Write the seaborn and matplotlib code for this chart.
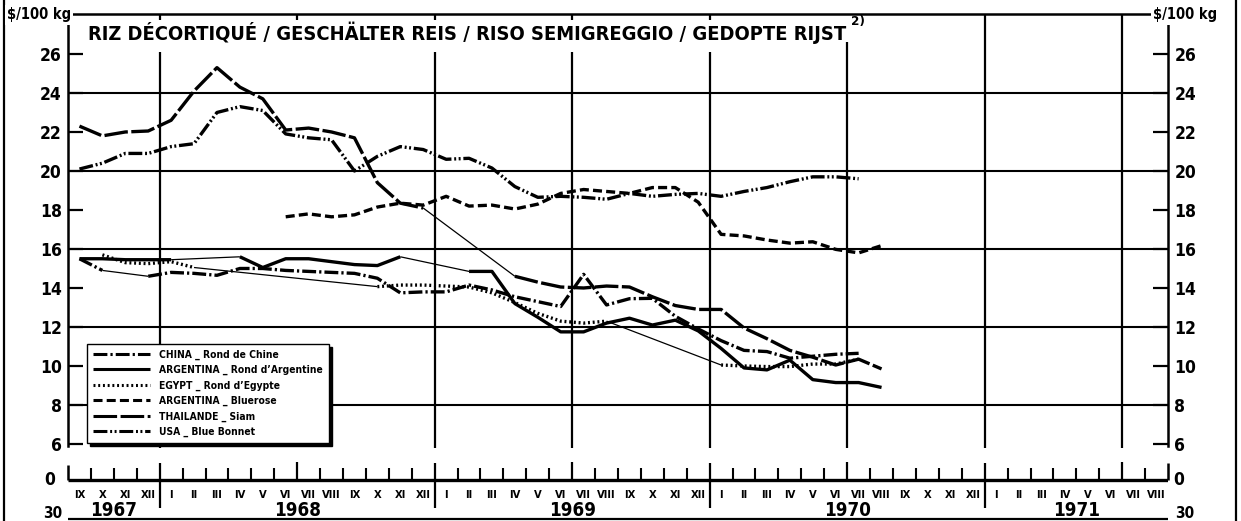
import os
import numpy as np
import pandas as pd
import matplotlib
matplotlib.use("Agg")
import matplotlib.pyplot as plt
from matplotlib import font_manager
from matplotlib.font_manager import FontProperties
from matplotlib.lines import Line2D
import seaborn as sns

# ---------------------------------------------------------------------------
# Monthly prices of husked rice, $/100 kg, Sept. 1967 - Aug. 1970
# (NaN = month without quotation; gaps are bridged by a thin line)
# ---------------------------------------------------------------------------
N = np.nan
month_labels = (["IX", "X", "XI", "XII"]
                + ["I", "II", "III", "IV", "V", "VI", "VII", "VIII", "IX", "X", "XI", "XII"] * 3
                + ["I", "II", "III", "IV", "V", "VI", "VII", "VIII"])
year_labels = ["1967", "1968", "1969", "1970", "1971"]
y_ticks = [26, 24, 22, 20, 18, 16, 14, 12, 10, 8, 6]

china = [15.5, 14.9, N, 14.6, 14.8, 14.75, 14.65, 15.0, 15.0, 14.9, 14.85, 14.8,
         14.75, 14.5, 13.75, 13.8, 13.8, 14.15, 13.9, 13.55, 13.3, 13.05, 14.7, 13.13,
         13.45, 13.47, 12.55, 11.9, 11.3, 10.8, 10.74, 10.4, 10.5, 10.6, 10.65, N]
argentina_rond = [15.5, 15.5, 15.45, 15.45, 15.45, N, N, 15.6, 15.05, 15.5, 15.5, 15.35,
                  15.2, 15.15, 15.6, N, N, 14.85, 14.85, 13.2, 12.5, 11.75, 11.75, 12.2,
                  12.45, 12.1, 12.35, 11.8, 10.9, 9.9, 9.8, 10.3, 9.3, 9.15, 9.15, 8.9]
egypt = [N, 15.7, 15.3, 15.25, 15.35, 15.05, N, N, N, N, N, N,
         N, 14.07, 14.15, 14.15, 14.1, 14.05, 13.75, 13.25, 12.7, 12.3, 12.2, 12.3,
         N, N, N, N, 10.05, 10.0, 9.97, 9.97, 10.1, 10.1, 10.35, N]
bluerose = [N, N, N, N, N, N, N, N, N, 17.65, 17.8, 17.65,
            17.75, 18.15, 18.35, 18.25, 18.7, 18.2, 18.25, 18.05, 18.3, 18.85, 19.05, 18.95,
            18.85, 19.15, 19.15, 18.4, 16.75, 16.67, 16.46, 16.3, 16.37, 15.98, 15.8, 16.17]
thailande = [22.3, 21.8, 22.0, 22.05, 22.6, 24.1, 25.3, 24.3, 23.7, 22.1, 22.2, 22.0,
             21.7, 19.4, 18.35, 18.1, N, N, N, 14.6, 14.3, 14.05, 14.0, 14.1,
             14.05, 13.55, 13.1, 12.9, 12.9, 11.95, 11.4, 10.8, 10.45, 10.05, 10.35, 9.85]
usa = [20.1, 20.4, 20.9, 20.9, 21.25, 21.4, 23.0, 23.3, 23.1, 21.9, 21.7, 21.6,
       20.0, 20.75, 21.25, 21.1, 20.6, 20.65, 20.15, 19.2, 18.65, 18.7, 18.65, 18.55,
       18.85, 18.7, 18.8, 18.85, 18.7, 18.95, 19.15, 19.45, 19.7, 19.7, 19.6, N]

series_labels = ["CHINA _ Rond de Chine", "ARGENTINA _ Rond d’Argentine",
                 "EGYPT _ Rond d’Egypte", "ARGENTINA _ Bluerose",
                 "THAILANDE _ Siam", "USA _ Blue Bonnet"]
series_values = [china, argentina_rond, egypt, bluerose, thailande, usa]
series_dashes = [(10, 2.2, 1.6, 2.2),            # dash-dot
                 None,                           # solid
                 (1.4, 2.0),                     # dotted
                 (6.5, 3.0),                     # dashed
                 (17, 2.5),                      # long dashes
                 (10, 2.0, 1.4, 1.8, 1.4, 2.0)]  # dash-dot-dot

# ---------------------------------------------------------------------------
sns.set_style("white")
plt.rcParams["lines.scale_dashes"] = False
plt.rcParams["lines.solid_capstyle"] = "butt"
for key in ["text.color", "axes.labelcolor", "xtick.color", "ytick.color", "axes.edgecolor"]:
    plt.rcParams[key] = "black"


def pick_font(file_keys, family):
    """Prefer a condensed bold face when one is installed."""
    for key in file_keys:
        for f in font_manager.fontManager.ttflist:
            if os.path.basename(f.fname).lower() == key.lower():
                return lambda size: FontProperties(fname=f.fname, size=size)
    return lambda size: FontProperties(family=family, weight="bold", size=size)


bold = pick_font(["DejaVuSansCondensed-Bold.ttf", "LiberationSansNarrow-Bold.ttf"],
                 "DejaVu Sans")
W, H = 1241, 521
fig = plt.figure(figsize=(W / 100, H / 100), dpi=100)
fig.patch.set_facecolor("white")


def fx(px):
    return px / W


def fy(py):
    return 1 - py / H


# main price panel
L, R, T, B = 68, 1168, 14, 446
ax = fig.add_axes([fx(L), fy(B), fx(R - L), (B - T) / H])
ax.set_xlim(0, 48)
ax.set_ylim(5.897, 28.05)
ax.set_facecolor("white")

for s in ["left", "top", "right"]:
    ax.spines[s].set_linewidth(1.8)
    ax.spines[s].set_color("black")
ax.spines["bottom"].set_visible(False)

ax.set_xticks([])
ax.set_yticks(y_ticks)
ax.set_yticklabels([str(v) for v in y_ticks])
ax.tick_params(axis="y", direction="in", length=11, width=1.6, color="black",
               labelcolor="black", left=True, right=True, labelleft=True,
               labelright=True, pad=4.5)
for lab in ax.get_yticklabels():
    lab.set_fontproperties(bold(12.5))

# horizontal grid at every 4 $
for g in [24, 20, 16, 12, 8]:
    ax.axhline(g, color="black", lw=1.5, zorder=1)

# half-year separators
ax.vlines([4, 16, 22, 28], 5.8, 26.1, color="black", lw=1.6, clip_on=False, zorder=1)
ax.vlines([34], 5.8, 26.6, color="black", lw=1.6, clip_on=False, zorder=1)
ax.vlines([40, 46], 5.8, 28.05, color="black", lw=1.6, clip_on=False, zorder=1)
ax.vlines([4, 10, 16, 22, 28], 27.72, 28.05, color="black", lw=1.6, zorder=1)

# price lines
x_mid = np.arange(36) + 0.5
for vals, dash, lab in zip(series_values, series_dashes, series_labels):
    v = np.asarray(vals, dtype=float)
    idx = np.where(~np.isnan(v))[0]
    runs = np.split(idx, np.where(np.diff(idx) > 1)[0] + 1)
    ls = "-" if dash is None else (0, dash)
    for r in runs:
        df = pd.DataFrame({"month": x_mid[r], "price": v[r]})
        sns.lineplot(data=df, x="month", y="price", ax=ax, color="black", lw=2.4,
                     linestyle=ls, errorbar=None, zorder=3)
    for a, b in zip(runs[:-1], runs[1:]):
        j = [a[-1], b[0]]
        df = pd.DataFrame({"month": x_mid[j], "price": v[j]})
        sns.lineplot(data=df, x="month", y="price", ax=ax, color="black", lw=0.9,
                     errorbar=None, zorder=3)
ax.set_xlabel("")
ax.set_ylabel("")

# legend
handles = [Line2D([], [], color="black", lw=2.2, linestyle="-" if d is None else (0, d))
           for d in series_dashes]
leg = ax.legend(handles, series_labels, loc="upper left",
                bbox_to_anchor=(fx(87), fy(344)), bbox_transform=fig.transFigure,
                prop=bold(7.4), frameon=True, fancybox=False, edgecolor="black",
                framealpha=1, borderpad=0.55, borderaxespad=0, handlelength=5.6,
                handletextpad=0.9, labelspacing=0.5,
                shadow={"ox": 2.2, "oy": -2.2, "color": "black", "alpha": 1})
leg.get_frame().set_linewidth(1.0)
leg.set_zorder(5)
for t in leg.get_texts():
    t.set_color("black")

# title
title = fig.text(fx(88), fy(33), "RIZ DÉCORTIQUÉ / GESCHÄLTER REIS / RISO SEMIGREGGIO / GEDOPTE RIJST",
                 fontproperties=bold(17), ha="left", va="center", color="black")
fig.canvas.draw()
bb = title.get_window_extent(fig.canvas.get_renderer())
title.set_fontproperties(bold(17 * 757 / bb.width))
fig.text(fx(851), fy(22), "2)", fontproperties=bold(9.5), ha="left", va="center")

# unit labels
for xpos in [7, 1153]:
    fig.text(fx(xpos), fy(15), "$/100 kg", fontproperties=bold(10.5), ha="left", va="center",
             bbox=dict(facecolor="white", edgecolor="none", pad=1.5))

# month axis strip (y in pixel rows)
axm = fig.add_axes([fx(L), 0, fx(R - L), 66 / H])
axm.set_xlim(0, 48)
axm.set_ylim(521, 455)
axm.axis("off")
axm.hlines(480, 0, 48, color="black", lw=2.4)
bounds = np.arange(1, 48)
small = [b for b in bounds if b % 6 != 4]
axm.vlines(small, 468, 480, color="black", lw=1.5)
axm.vlines([b for b in bounds if b % 12 == 10], 462, 480, color="black", lw=1.6)
axm.vlines([b for b in bounds if b % 12 == 4], 463, 508, color="black", lw=1.6)
axm.vlines([0], 465, 480, color="black", lw=1.8, clip_on=False)
axm.vlines([48], 463, 480, color="black", lw=1.8, clip_on=False)
for i, m in enumerate(month_labels):
    axm.text(i + 0.5, 495, m, fontproperties=bold(8), ha="center", va="center")
for yr, c in zip(year_labels, [2, 10, 22, 34, 44]):
    axm.text(c, 510, yr, fontproperties=bold(13.5), ha="center", va="center")
axm.text(-0.57, 480, "0", fontproperties=bold(12.5), ha="right", va="center", clip_on=False)
axm.text(48.25, 480, "0", fontproperties=bold(12.5), ha="left", va="center", clip_on=False)
# top of the following panel
axm.hlines(518.5, 0, 48, color="black", lw=1.6, clip_on=False)
axm.text(-0.26, 520.5, "30", fontproperties=bold(11), ha="right", va="bottom", clip_on=False)
axm.text(48.3, 520.5, "30", fontproperties=bold(11), ha="left", va="bottom", clip_on=False)

# page frame
for xp in [4, 1236]:
    fig.add_artist(Line2D([fx(xp), fx(xp)], [0, 1], color="black", lw=1.6,
                          transform=fig.transFigure))

fig.savefig("out.png", dpi=100, facecolor="white")
